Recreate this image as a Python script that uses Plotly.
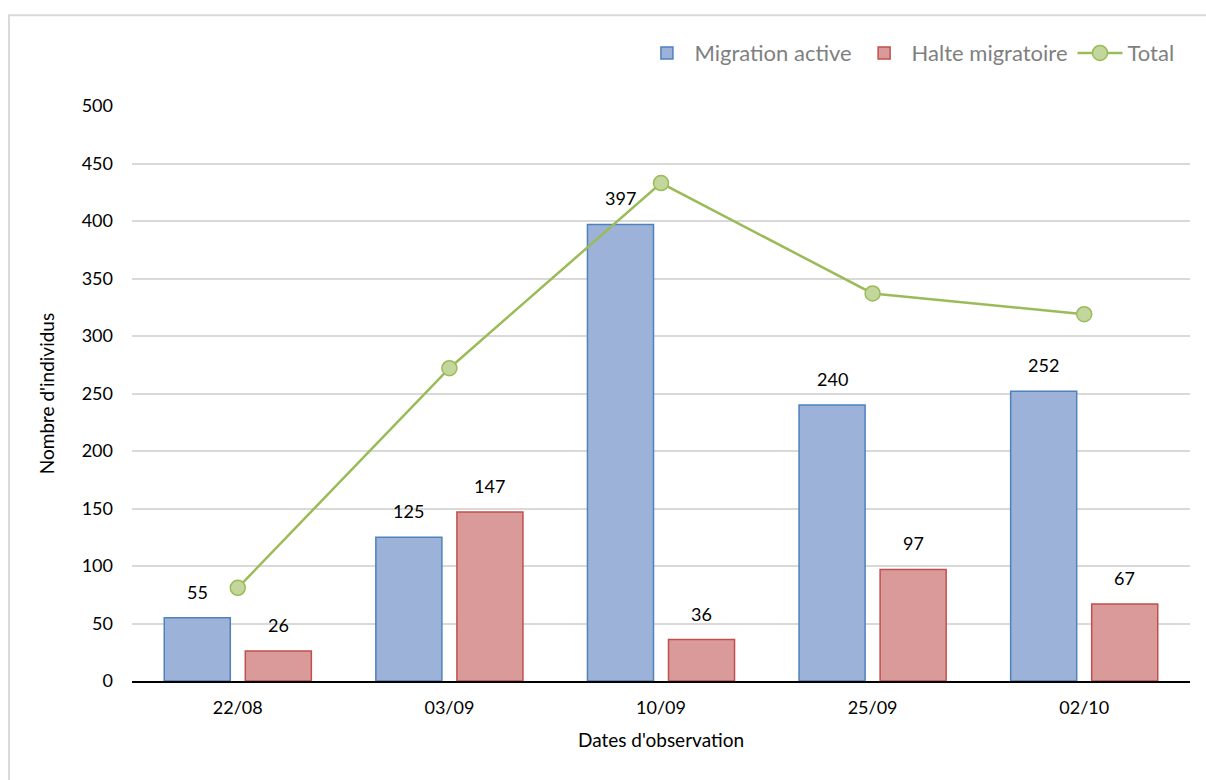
import plotly.graph_objects as go

# Observation dates and counts
dates = ["22/08", "03/09", "10/09", "25/09", "02/10"]
migration_active = [55, 125, 397, 240, 252]
halte_migratoire = [26, 147, 36, 97, 67]
total = [a + h for a, h in zip(migration_active, halte_migratoire)]

FONT = "Lato"
BARGAP = 0.234
BARGROUPGAP = 0.185
PLOT_W = 1206 - 132 - 16
# horizontal distance from category centre to each bar centre, in px
BAR_OFFSET = PLOT_W / len(dates) * (1 - BARGAP) / 4

fig = go.Figure()

fig.add_trace(go.Bar(
    name="Migration active",
    x=dates, y=migration_active,
    marker=dict(color="#9cb2d9", line=dict(color="#4f81bd", width=1.5)),
))
fig.add_trace(go.Bar(
    name="Halte migratoire",
    x=dates, y=halte_migratoire,
    marker=dict(color="#db9a9a", line=dict(color="#c0504d", width=1.5)),
))
fig.add_trace(go.Scatter(
    name="Total",
    x=dates, y=total,
    mode="lines+markers",
    line=dict(color="#9bbb59", width=2.5),
    marker=dict(size=15, color="#c3d69b", line=dict(color="#9bbb59", width=1.5)),
    cliponaxis=False,
))

# value labels above each bar
annotations = []
for series, shift in ((migration_active, -BAR_OFFSET), (halte_migratoire, BAR_OFFSET)):
    for d, v in zip(dates, series):
        annotations.append(dict(
            x=d, y=v, text=str(v), showarrow=False,
            xanchor="center", yanchor="bottom",
            xshift=shift, yshift=13,
            font=dict(family=FONT, size=18, color="#000000"),
        ))

fig.update_layout(
    width=1206, height=780,
    margin=dict(l=132, r=16, t=106, b=99),
    paper_bgcolor="white", plot_bgcolor="white",
    font=dict(family=FONT, size=18, color="#000000"),
    barmode="group",
    bargap=BARGAP,
    bargroupgap=BARGROUPGAP,
    annotations=annotations,
    legend=dict(
        orientation="h",
        x=0.99, xanchor="right",
        y=1.092, yanchor="middle",
        font=dict(family=FONT, size=22, color="#7f7f7f"),
        itemwidth=45,
        traceorder="normal",
    ),
    xaxis=dict(
        type="category",
        showgrid=False,
        showline=True, linecolor="#000000", linewidth=1.5,
        ticks="", tickfont=dict(size=18),
        ticklabelstandoff=10,
        title=dict(text="Dates d'observation", font=dict(size=19), standoff=16),
    ),
    yaxis=dict(
        range=[0, 500], dtick=50,
        showgrid=True, gridcolor="#d9d9d9", gridwidth=1.5,
        zeroline=False, showline=False,
        ticks="", tickfont=dict(size=18),
        ticklabelstandoff=18,
        title=dict(text="Nombre d'individus", font=dict(size=19), standoff=22),
    ),
    shapes=[dict(
        type="rect", xref="paper", yref="paper",
        x0=-0.1163, x1=1.05, y0=-0.3, y1=1.158,
        line=dict(color="#d9d9d9", width=2), fillcolor="rgba(0,0,0,0)",
        layer="below",
    )],
)

fig.write_html("out.html")
